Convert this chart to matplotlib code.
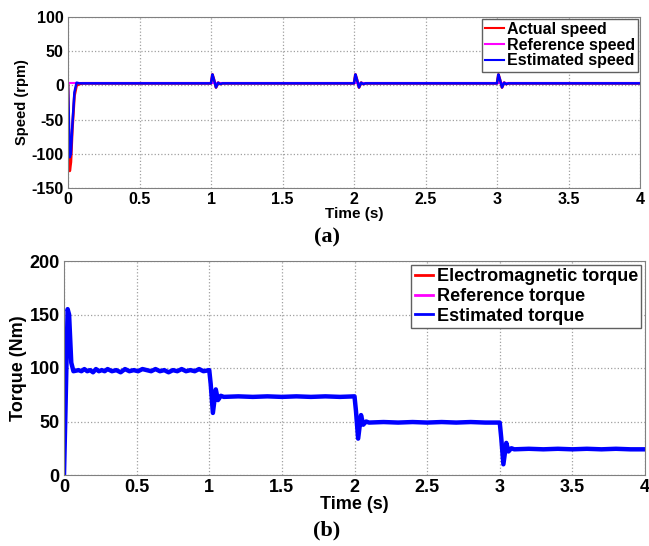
import matplotlib
matplotlib.use("Agg")
import matplotlib.pyplot as plt

plt.rcParams['font.family'] = ['Liberation Sans', 'DejaVu Sans']
plt.rcParams['font.weight'] = 'bold'
plt.rcParams['axes.unicode_minus'] = False

# speed (rpm)
speed_t = [0, 0.005, 0.012, 0.02, 0.03, 0.045, 0.06, 0.08, 0.1, 1.0, 1.01, 1.02, 1.035, 1.05, 1.065, 1.08, 1.1,
           2.0, 2.01, 2.02, 2.035, 2.05, 2.065, 2.08, 2.1, 3.0, 3.01, 3.02, 3.035, 3.05, 3.065, 3.08, 3.1, 4.0]
actual_speed = [0, -60, -125, -112, -65, -15, 0, 2, 3, 3, 16, 9, -3, 4, 2, 3, 3,
                3, 16, 9, -3, 4, 2, 3, 3, 3, 16, 9, -3, 4, 2, 3, 3, 3]
estimated_speed = [0, -40, -105, -100, -60, -10, 4, 3, 3, 3, 16, 9, -3, 4, 2, 3, 3,
                   3, 16, 9, -3, 4, 2, 3, 3, 3, 16, 9, -3, 4, 2, 3, 3, 3]
ref_speed_t = [0, 4]
ref_speed = [3, 3]

# torque (Nm), with the visible ripple read as small wiggles
torque_t = [0, 0.01, 0.025, 0.035, 0.05, 0.065,
            0.1, 0.12, 0.14, 0.16, 0.18, 0.2, 0.22, 0.24, 0.26, 0.28, 0.3, 0.33, 0.36, 0.39,
            0.42, 0.45, 0.48, 0.51, 0.54, 0.57, 0.6, 0.63, 0.66, 0.69, 0.72, 0.75, 0.78,
            0.81, 0.84, 0.87, 0.9, 0.93, 0.96, 1.0,
            1.01, 1.025, 1.045, 1.06, 1.08,
            1.1, 1.2, 1.3, 1.4, 1.5, 1.6, 1.7, 1.8, 1.9, 2.0,
            2.01, 2.025, 2.045, 2.06, 2.08,
            2.1, 2.2, 2.3, 2.4, 2.5, 2.6, 2.7, 2.8, 2.9, 3.0,
            3.01, 3.025, 3.045, 3.06, 3.08,
            3.1, 3.2, 3.3, 3.4, 3.5, 3.6, 3.7, 3.8, 3.9, 4.0]
torque = [0, 60, 155, 150, 105, 97,
          98, 97, 99, 97, 98, 96, 99, 97, 98, 97, 99, 97, 98, 96,
          99, 97, 98, 97, 99, 98, 97, 99, 97, 98, 96, 98, 97,
          99, 97, 98, 97, 99, 97, 98,
          85, 58, 80, 70, 74,
          73, 73.5, 73, 73.5, 73, 73.5, 73, 73.5, 73, 73.5,
          60, 34, 56, 47, 50,
          49, 49.5, 49, 49.5, 49, 49.5, 49, 49.5, 49, 49,
          35, 10, 30, 22, 25,
          24, 24.5, 24, 24.5, 24, 24.5, 24, 24.5, 24, 24]

fig = plt.figure(figsize=(6.49, 5.46), dpi=100)

ax1 = fig.add_axes([68/649, 1-188/546, 572/649, 171/546])
ax1.plot(speed_t, actual_speed, color="red", lw=2, label="Actual speed")
ax1.plot(ref_speed_t, ref_speed, color="magenta", lw=1.5, label="Reference speed")
ax1.plot(speed_t, estimated_speed, color="blue", lw=1.8, label="Estimated speed")
ax1.set_xlim(0, 4)
ax1.set_ylim(-150, 100)
ax1.set_xticks([0, 0.5, 1, 1.5, 2, 2.5, 3, 3.5, 4])
ax1.set_xticklabels(["0", "0.5", "1", "1.5", "2", "2.5", "3", "3.5", "4"])
ax1.set_yticks([-150, -100, -50, 0, 50, 100])
ax1.set_xlabel("Time (s)", fontsize=11, fontweight="bold", labelpad=0)
ax1.set_ylabel("Speed (rpm)", fontsize=10.5, fontweight="bold", labelpad=2)
leg1 = ax1.legend(loc="upper right", fontsize=11.5, frameon=True, fancybox=False, edgecolor="black",
                  framealpha=1, handlelength=1.2, handletextpad=0.2, borderpad=0.2, labelspacing=0.05,
                  borderaxespad=0.1)
leg1.get_frame().set_edgecolor("#606060")
for line in leg1.get_lines():
    line.set_linewidth(1.5)
ax1.tick_params(labelsize=11.5)

ax2 = fig.add_axes([64/649, 1-475/546, 581/649, 214/546])
ax2.plot(torque_t, torque, color="red", lw=1.5, label="Electromagnetic torque")
ax2.plot(torque_t, torque, color="magenta", lw=1.5, label="Reference torque")
ax2.plot(torque_t, torque, color="blue", lw=3.2, label="Estimated torque")
ax2.set_xlim(0, 4)
ax2.set_ylim(0, 200)
ax2.set_xticks([0, 0.5, 1, 1.5, 2, 2.5, 3, 3.5, 4])
ax2.set_xticklabels(["0", "0.5", "1", "1.5", "2", "2.5", "3", "3.5", "4"])
ax2.set_yticks([0, 50, 100, 150, 200])
ax2.set_xlabel("Time (s)", fontsize=13, fontweight="bold", labelpad=0)
ax2.set_ylabel("Torque (Nm)", fontsize=13, fontweight="bold", labelpad=2)
leg2 = ax2.legend(loc="upper right", fontsize=13, frameon=True, fancybox=False, edgecolor="black",
                  framealpha=1, handlelength=1.0, handletextpad=0.2, borderpad=0.2, labelspacing=0.15,
                  borderaxespad=0.2)
leg2.get_frame().set_edgecolor("#606060")
for line in leg2.get_lines():
    line.set_linewidth(2)
ax2.tick_params(labelsize=13)

for ax in [ax1, ax2]:
    ax.grid(True, color="#a0a0a0", linestyle=":", linewidth=0.9)
    ax.tick_params(length=0, pad=3)
    for lab in ax.get_xticklabels() + ax.get_yticklabels():
        lab.set_fontweight("bold")
    for sp in ax.spines.values():
        sp.set_color("#808080")

fig.text(327/649, 1-237/546, "(a)", family="Liberation Serif", fontsize=16, fontweight="bold",
         ha="center", va="center")
fig.text(327/649, 1-530/546, "(b)", family="Liberation Serif", fontsize=16, fontweight="bold",
         ha="center", va="center")

fig.savefig("out.png", dpi=100)
